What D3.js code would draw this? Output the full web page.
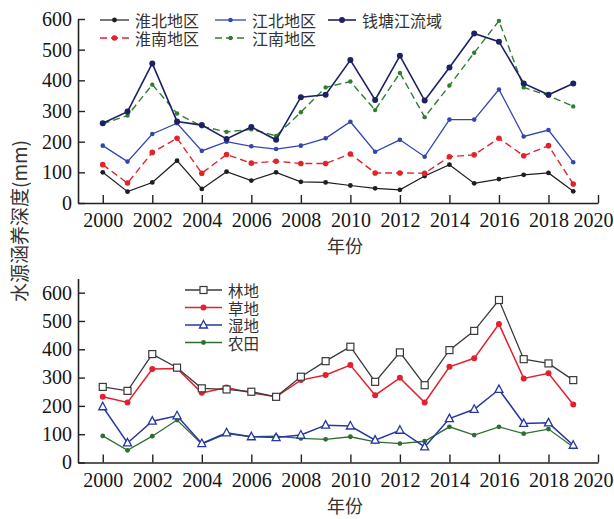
<!DOCTYPE html>
<html>
<head>
<meta charset="utf-8">
<script src="https://cdn.jsdelivr.net/npm/d3@7"></script>
<style>
  html, body { margin: 0; padding: 0; background: #fff; }
  svg { display: block; }
  .tick text { font-family: "Liberation Serif", "DejaVu Serif", serif; font-size: 20px; fill: #151515; }
  .cjk { font-family: "Noto Sans CJK SC", sans-serif; fill: #333; }
</style>
</head>
<body>
<svg id="chart" width="614" height="519"></svg>
<script>
// Years on the horizontal axis
const years = [2000, 2001, 2002, 2003, 2004, 2005, 2006, 2007, 2008, 2009,
               2010, 2011, 2012, 2013, 2014, 2015, 2016, 2017, 2018, 2019];
const xTicks = [2000, 2002, 2004, 2006, 2008, 2010, 2012, 2014, 2016, 2018, 2020];
const yTicks = [0, 100, 200, 300, 400, 500, 600];

// Upper panel: water conservation depth by region (mm)
const huaibei   = [100, 37, 67, 138, 46, 102, 73, 100, 69, 67, 57, 48, 43, 88, 125, 64, 78, 92, 98, 38];
const huainan   = [125, 65, 165, 211, 97, 158, 130, 136, 129, 129, 160, 98, 98, 97, 151, 157, 211, 154, 187, 62];
const jiangbei  = [187, 135, 225, 260, 170, 200, 185, 176, 187, 211, 265, 167, 206, 151, 272, 272, 370, 217, 238, 133];
const jiangnan  = [258, 285, 386, 292, 250, 232, 240, 219, 296, 377, 396, 303, 424, 280, 383, 490, 594, 377, 350, 315];
const qiantang  = [260, 298, 455, 266, 254, 209, 248, 206, 345, 353, 466, 336, 480, 334, 442, 553, 526, 390, 353, 390];

// Lower panel: water conservation depth by land use (mm)
const forest    = [267, 253, 383, 335, 262, 258, 250, 232, 303, 358, 409, 285, 389, 273, 397, 465, 574, 365, 350, 291];
const grassland = [232, 212, 330, 332, 246, 265, 246, 232, 291, 309, 344, 238, 299, 212, 338, 368, 489, 297, 315, 205];
const wetland   = [197, 69, 146, 165, 67, 105, 91, 88, 97, 132, 129, 79, 114, 55, 155, 188, 258, 138, 140, 61];
const farmland  = [94, 43, 93, 150, 65, 102, 91, 93, 85, 82, 91, 73, 67, 75, 126, 97, 126, 102, 118, 55];

const svg = d3.select("#chart");

const x = d3.scaleLinear().domain([1999, 2020]).range([78, 598]);
const yTop = d3.scaleLinear().domain([0, 600]).range([203, 19]);
const yBot = d3.scaleLinear().domain([0, 650]).range([462.5, 278.5]);

function drawAxes(y, axisY) {
  const gx = svg.append("g").attr("transform", `translate(0,${axisY})`)
    .call(d3.axisBottom(x).tickValues(xTicks).tickFormat(d3.format("d"))
      .tickSizeInner(-8).tickSizeOuter(0).tickPadding(10));
  // keep the last year label inside the canvas
  gx.selectAll(".tick text").filter(d => d === 2020).attr("dx", -5);
  const gy = svg.append("g").attr("transform", "translate(78,0)")
    .call(d3.axisLeft(y).tickValues(yTicks).tickSizeInner(-7).tickSizeOuter(0).tickPadding(6));
  [gx, gy].forEach(g => {
    g.select(".domain").attr("stroke", "#222").attr("stroke-width", 1.6);
    g.selectAll(".tick line").attr("stroke", "#222").attr("stroke-width", 1.4);
  });
}

drawAxes(yTop, 203);
drawAxes(yBot, 462.5);

// Marker painters
function circleMark(g, cx, cy, color, r) {
  g.append("circle").attr("cx", cx).attr("cy", cy).attr("r", r).attr("fill", color);
}
function squareMark(g, cx, cy, color) {
  g.append("rect").attr("x", cx - 3.5).attr("y", cy - 3.5).attr("width", 7).attr("height", 7)
    .attr("fill", "#fff").attr("stroke", color).attr("stroke-width", 1.2);
}
function triMark(g, cx, cy, color) {
  g.append("path").attr("d", `M${cx},${cy - 4.5}L${cx + 4},${cy + 3}L${cx - 4},${cy + 3}Z`)
    .attr("fill", "#fff").attr("stroke", color).attr("stroke-width", 1.3);
}

function drawSeries(values, y, s) {
  const line = d3.line().x((d, i) => x(years[i])).y(d => y(d));
  svg.append("path").datum(values).attr("d", line)
    .attr("fill", "none").attr("stroke", s.color).attr("stroke-width", s.width)
    .attr("stroke-dasharray", s.dash || null);
  const g = svg.append("g");
  values.forEach((v, i) => s.mark(g, x(years[i]), y(v), s.color));
}

function legendItem(lx1, lx2, ly, s, label, fontSize) {
  svg.append("line").attr("x1", lx1).attr("x2", lx2).attr("y1", ly).attr("y2", ly)
    .attr("stroke", s.color).attr("stroke-width", s.width).attr("stroke-dasharray", s.dash || null);
  const g = svg.append("g");
  s.mark(g, (lx1 + lx2) / 2, ly, s.color);
  svg.append("text").attr("class", "cjk").attr("x", lx2 + 6).attr("y", ly)
    .attr("dominant-baseline", "central").attr("font-size", fontSize).text(label);
}

// Upper panel series styles
const sHuaibei  = { color: "#1e1e1e", width: 1.2, mark: (g, a, b, c) => circleMark(g, a, b, c, 2.4) };
const sHuainan  = { color: "#e3232c", width: 1.4, dash: "7,4", mark: (g, a, b, c) => circleMark(g, a, b, c, 2.8) };
const sJiangbei = { color: "#3346b0", width: 1.3, mark: (g, a, b, c) => circleMark(g, a, b, c, 2.3) };
const sJiangnan = { color: "#2f7d32", width: 1.4, dash: "7,4", mark: (g, a, b, c) => circleMark(g, a, b, c, 2.2) };
const sQiantang = { color: "#1c2163", width: 1.6, mark: (g, a, b, c) => circleMark(g, a, b, c, 3) };

drawSeries(huaibei, yTop, sHuaibei);
drawSeries(huainan, yTop, sHuainan);
drawSeries(jiangbei, yTop, sJiangbei);
drawSeries(jiangnan, yTop, sJiangnan);
drawSeries(qiantang, yTop, sQiantang);

legendItem(100, 129, 20, sHuaibei, "淮北地区", 16);
legendItem(100, 129, 38, sHuainan, "淮南地区", 16);
legendItem(215, 246, 20, sJiangbei, "江北地区", 16);
legendItem(215, 246, 38, sJiangnan, "江南地区", 16);
legendItem(328, 356, 20, sQiantang, "钱塘江流域", 16);

// Lower panel series styles
const sForest   = { color: "#3a3a3a", width: 1.3, mark: squareMark };
const sGrass    = { color: "#e2202e", width: 1.5, mark: (g, a, b, c) => circleMark(g, a, b, c, 3) };
const sWetland  = { color: "#2636a3", width: 1.5, mark: triMark };
const sFarm     = { color: "#2e6e30", width: 1.3, mark: (g, a, b, c) => circleMark(g, a, b, c, 2.4) };

drawSeries(farmland, yBot, sFarm);
drawSeries(wetland, yBot, sWetland);
drawSeries(grassland, yBot, sGrass);
drawSeries(forest, yBot, sForest);

legendItem(185, 222, 290, sForest, "林地", 15.5);
legendItem(185, 222, 307.5, sGrass, "草地", 15.5);
legendItem(185, 222, 325, sWetland, "湿地", 15.5);
legendItem(185, 222, 342.5, sFarm, "农田", 15.5);

// Axis titles
svg.append("text").attr("class", "cjk").attr("x", 345).attr("y", 245)
  .attr("text-anchor", "middle").attr("dominant-baseline", "central").attr("font-size", 18).text("年份");
svg.append("text").attr("class", "cjk").attr("x", 345).attr("y", 505)
  .attr("text-anchor", "middle").attr("dominant-baseline", "central").attr("font-size", 18).text("年份");
svg.append("text").attr("class", "cjk")
  .attr("transform", "translate(18,221) rotate(-90)")
  .attr("text-anchor", "middle").attr("dominant-baseline", "central").attr("font-size", 19)
  .text("水源涵养深度(mm)");
</script>
</body>
</html>
